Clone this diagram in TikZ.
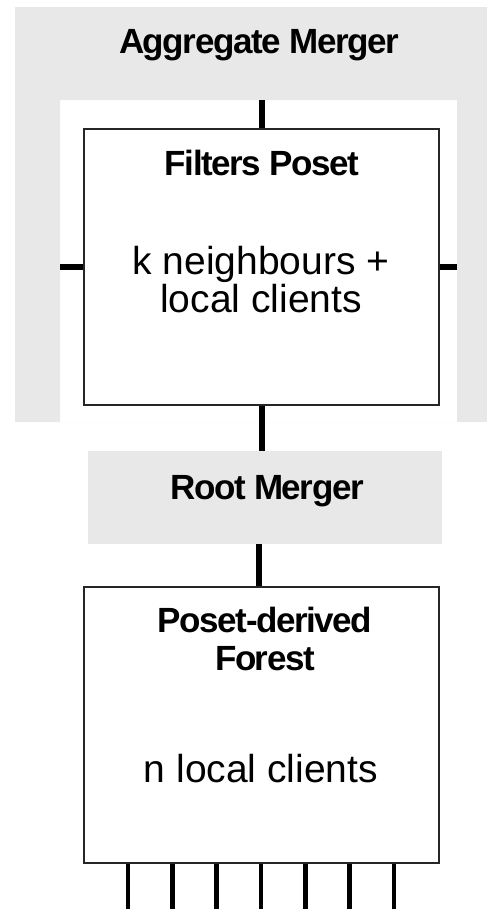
\documentclass[tikz,border=0pt]{standalone}
\usepackage{fontspec}
\setmainfont{Liberation Sans}
\newfontfamily\tightbold[LetterSpace=-4]{Liberation Sans}
\definecolor{mergergray}{RGB}{232,232,232}
\tikzset{
  box/.style={draw=black!85, line width=1.5pt, fill=white, inner sep=0pt},
  graybox/.style={fill=mergergray, draw=none, inner sep=0pt},
  thick link/.style={line width=6.5pt, black},
  thin link/.style={line width=4.5pt, black},
  title/.style={font=\tightbold\bfseries\fontsize{35}{38}\selectfont, inner sep=0pt, anchor=base, align=center},
  body/.style={font=\fontsize{39}{35}\selectfont, inner sep=0pt, anchor=base, align=center}
}
\begin{document}
\begin{tikzpicture}[x=1pt,y=-1pt]
\useasboundingbox (0,0) rectangle (487,913);
% aggregate merger U-shaped area
\fill[mergergray, even odd rule] (15,7) rectangle (487,422) (60,100) rectangle (457,422);
\node[title] (aggtext) at (259,53) {Aggregate Merger};

% filters poset box
\node[box, minimum width=355pt, minimum height=276pt] (fp) at (261.5,267) {};
\node[title] (fptitle) at (262,175) {Filters Poset};
\node[body] (fpbody) at (261,312) {k neighbours +\\local clients};

% connectors of the filters poset
\coordinate (aggtop) at (262,100);
\coordinate (aggleft) at (60,267);
\coordinate (aggright) at (457,267);
\draw[thick link] (aggtop) -- (aggtop |- fp.north);
\draw[thick link] (aggleft) -- (fp.west);
\draw[thick link] (aggright) -- (fp.east);

% root merger
\node[graybox, minimum width=354pt, minimum height=93pt] (root) at (265,497.5) {};
\node[title] (roottext) at (267,499) {Root Merger};
\draw[thick link] (fp.south -| aggtop) -- (aggtop |- root.north);

% forest box
\node[box, minimum width=355pt, minimum height=276pt] (forest) at (261.5,725) {};
\node[title] (ftitle) at (265,670) {Poset-derived\\Forest};
\node[body] (fbody) at (261,782) {n local clients};
\coordinate (rootlink) at (259,544);
\draw[thick link, line width=6pt] (rootlink) -- (rootlink |- forest.north);

% client lines
\foreach \i in {0,...,6} {
  \coordinate (c\i) at ({128+44.33*\i},909);
  \draw[thin link] (c\i |- forest.south) -- (c\i);
}
\end{tikzpicture}
\end{document}
